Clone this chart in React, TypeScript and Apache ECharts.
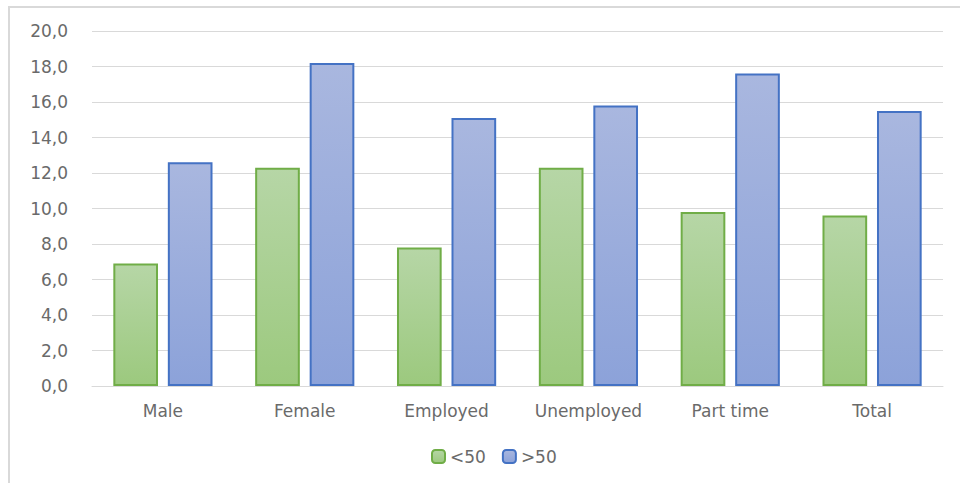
import React, { useEffect, useRef } from "react";
import * as echarts from "echarts";

const categories = ["Male", "Female", "Employed", "Unemployed", "Part time", "Total"];
const under50 = [6.9, 12.3, 7.8, 12.3, 9.8, 9.6];
const over50 = [12.6, 18.2, 15.1, 15.8, 17.6, 15.5];
const seriesNames = ["<50", ">50"];

const FONT = "'DejaVu Sans', sans-serif";
const TEXT = "#6a6a6a";

export default function App() {
  const ref = useRef<HTMLDivElement>(null);
  useEffect(() => {
    if (!ref.current) return;
    const chart = echarts.init(ref.current, undefined, { renderer: "svg" });
    const grad = (top: string, bottom: string) =>
      new echarts.graphic.LinearGradient(0, 0, 0, 1, [
        { offset: 0, color: top },
        { offset: 1, color: bottom },
      ]);
    chart.setOption({
      animation: false,
      backgroundColor: "#ffffff",
      graphic: [
        {
          type: "rect",
          shape: { x: 9, y: 7, width: 1000, height: 1000 },
          style: { fill: "none", stroke: "#d9d9d9", lineWidth: 2 },
          silent: true,
        },
      ],
      grid: { left: 92, right: 17, top: 31, bottom: 97 },
      legend: {
        data: seriesNames,
        left: 426,
        top: 443,
        itemWidth: 13,
        itemHeight: 13,
        itemGap: 16,
        textStyle: { color: TEXT, fontSize: 17, fontFamily: FONT },
      },
      xAxis: {
        type: "category",
        data: categories,
        axisLine: { lineStyle: { color: "#d9d9d9", width: 1 } },
        axisTick: { show: false },
        axisLabel: { color: TEXT, fontSize: 17, fontFamily: FONT, margin: 16 },
      },
      yAxis: {
        type: "value",
        min: 0,
        max: 20,
        interval: 2,
        axisLine: { show: false },
        axisTick: { show: false },
        splitLine: { lineStyle: { color: "#d9d9d9", width: 1 } },
        axisLabel: {
          color: TEXT,
          fontSize: 17,
          fontFamily: FONT,
          margin: 24,
          formatter: (v: number) => v.toFixed(1).replace(".", ","),
        },
      },
      series: [
        {
          name: seriesNames[0],
          type: "bar",
          data: under50,
          barWidth: "31.5%",
          barGap: "22%",
          itemStyle: {
            color: grad("#b6d6a6", "#9cc97e"),
            borderColor: "#70ad47",
            borderWidth: 2,
          },
        },
        {
          name: seriesNames[1],
          type: "bar",
          data: over50,
          barWidth: "31.5%",
          barGap: "22%",
          itemStyle: {
            color: grad("#a9b7df", "#8ca2d9"),
            borderColor: "#4472c4",
            borderWidth: 2,
          },
        },
      ],
    });
    return () => chart.dispose();
  }, []);
  return (
    <div
      ref={ref}
      style={{ position: "fixed", left: 0, top: 0, width: 960, height: 483 }}
    />
  );
}
